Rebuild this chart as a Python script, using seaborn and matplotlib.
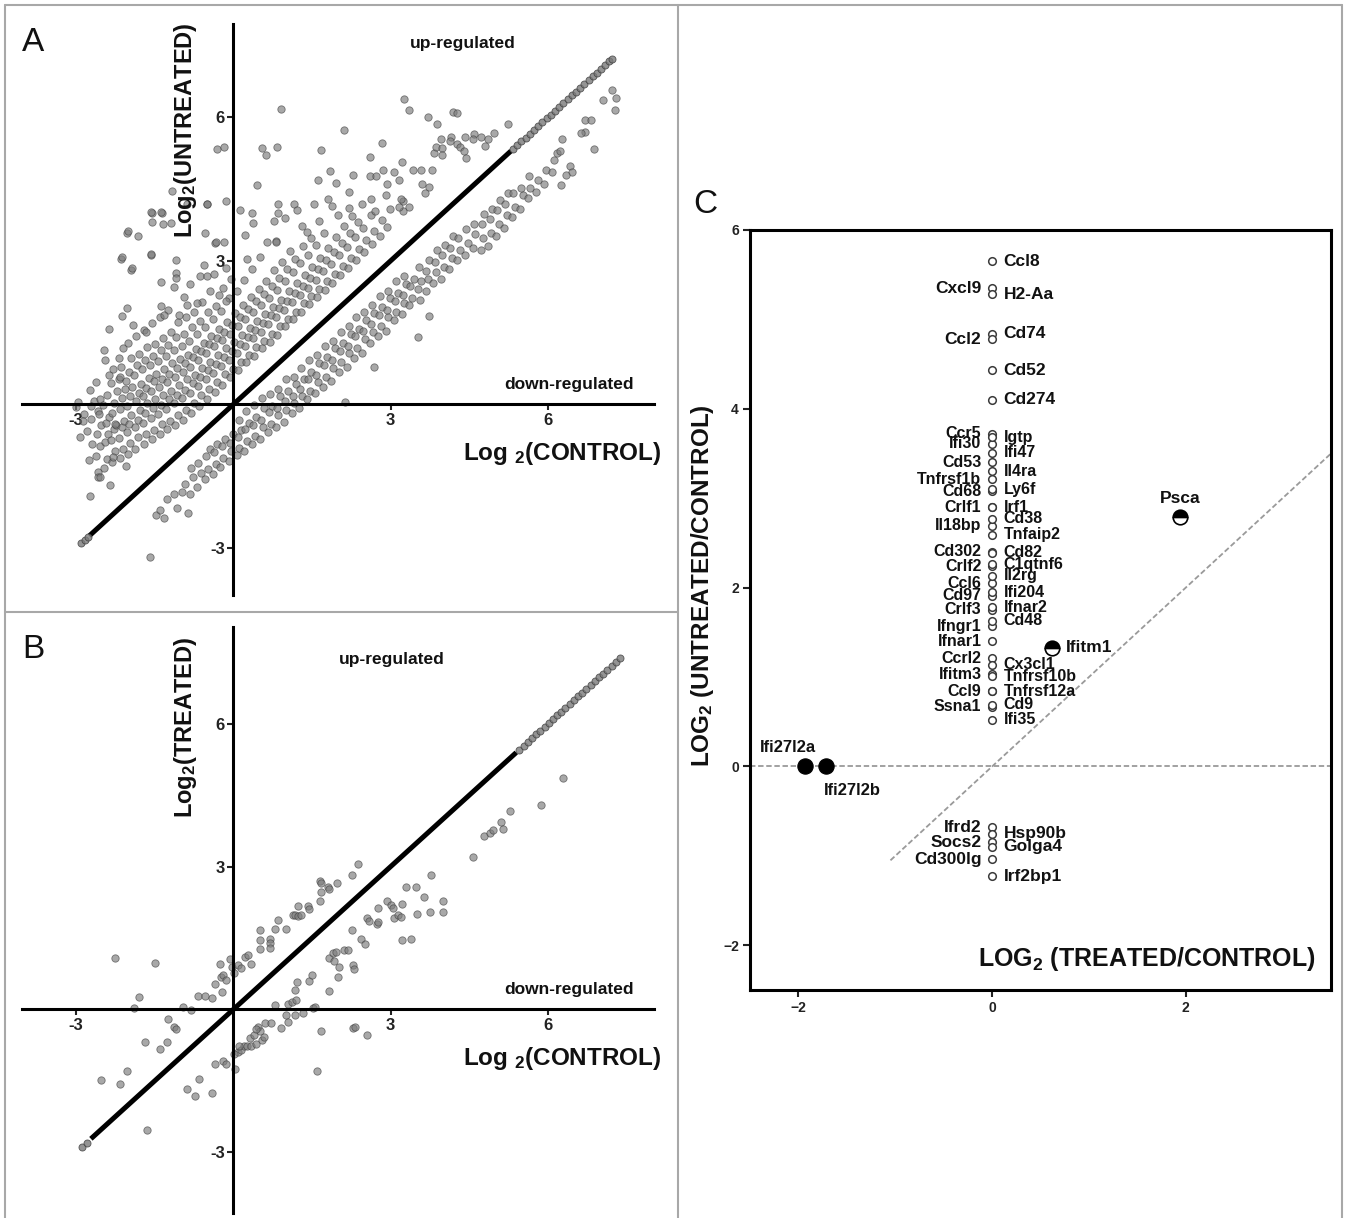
import matplotlib
matplotlib.use("Agg")
import matplotlib.pyplot as plt
from matplotlib.lines import Line2D
import seaborn as sns
import pandas as pd

# ---------------- DATA ----------------
# Panel A : genes above the diagonal (dense core + scattered halo)
a_upper_core = [
    (-2.93,-0.68),(-2.85,-0.21),(-2.97,0.05),
    (-2.76,-1.17),(-2.69,-0.83),(-2.79,-0.55),(-2.71,-0.31),(-2.66,0.07),(-2.74,0.31),
    (-2.58,-1.42),(-2.63,-1.08),(-2.55,-0.88),(-2.61,-0.61),(-2.52,-0.44),(-2.59,-0.13),(-2.54,0.12),(-2.62,0.47),
    (-2.47,-1.33),(-2.41,-1.14),(-2.46,-0.79),(-2.39,-0.63),(-2.44,-0.39),(-2.37,-0.27),(-2.48,-0.02),(-2.42,0.19),(-2.38,0.61),(-2.45,0.93),
    (-2.31,-1.21),(-2.26,-0.98),(-2.33,-0.74),(-2.28,-0.52),(-2.24,-0.43),(-2.32,-0.18),(-2.27,0.03),(-2.22,0.27),(-2.34,0.44),(-2.29,0.74),
    (-2.16,-1.12),(-2.11,-0.93),(-2.18,-0.71),(-2.13,-0.47),(-2.09,-0.34),(-2.17,-0.09),(-2.12,0.14),(-2.07,0.33),(-2.19,0.52),(-2.14,0.79),(-2.1,1.17),
    (-2.02,-1.04),(-1.97,-0.81),(-2.04,-0.58),(-1.99,-0.41),(-1.95,-0.22),(-2.03,-0.04),(-1.98,0.18),(-1.93,0.37),(-2.05,0.49),(-2.0,0.68),(-1.96,0.97),(-2.01,1.28),
    (-1.87,-0.93),(-1.82,-0.69),(-1.88,-0.47),(-1.83,-0.33),(-1.79,-0.11),(-1.86,0.06),(-1.81,0.24),(-1.77,0.43),(-1.89,0.61),(-1.84,0.82),(-1.8,1.05),(-1.85,1.43),
    (-1.71,-0.84),(-1.66,-0.61),(-1.73,-0.39),(-1.68,-0.19),(-1.64,0.02),(-1.72,0.17),(-1.67,0.34),(-1.62,0.55),(-1.74,0.74),(-1.69,0.92),(-1.65,1.19),(-1.7,1.55),
    (-1.56,-0.72),(-1.51,-0.53),(-1.58,-0.28),(-1.53,-0.07),(-1.49,0.11),(-1.57,0.27),(-1.52,0.48),(-1.47,0.63),(-1.59,0.83),(-1.54,1.02),(-1.5,1.27),(-1.55,1.71),
    (-1.41,-0.63),(-1.36,-0.42),(-1.43,-0.21),(-1.38,-0.02),(-1.34,0.19),(-1.42,0.36),(-1.37,0.52),(-1.32,0.74),(-1.44,0.91),(-1.39,1.13),(-1.35,1.38),(-1.4,1.83),
    (-1.26,-0.52),(-1.21,-0.34),(-1.28,-0.09),(-1.23,0.11),(-1.19,0.28),(-1.27,0.47),(-1.22,0.63),(-1.17,0.86),(-1.29,1.02),(-1.24,1.24),(-1.2,1.52),(-1.25,1.97),
    (-1.11,-0.44),(-1.06,-0.22),(-1.13,0.02),(-1.08,0.19),(-1.04,0.41),(-1.12,0.57),(-1.07,0.76),(-1.02,0.94),(-1.14,1.13),(-1.09,1.41),(-1.05,1.72),
    (-0.96,-0.33),(-0.91,-0.11),(-0.98,0.13),(-0.93,0.31),(-0.89,0.52),(-0.97,0.68),(-0.92,0.87),(-0.87,1.04),(-0.99,1.22),(-0.94,1.47),(-0.9,1.83),(-0.95,2.24),
    (-0.81,-0.19),(-0.76,0.03),(-0.83,0.24),(-0.78,0.44),(-0.74,0.61),(-0.82,0.79),(-0.77,0.98),(-0.72,1.16),(-0.84,1.33),(-0.79,1.61),(-0.75,1.94),
    (-0.66,-0.04),(-0.61,0.19),(-0.68,0.38),(-0.63,0.57),(-0.59,0.77),(-0.67,0.93),(-0.62,1.12),(-0.57,1.29),(-0.69,1.48),(-0.64,1.74),(-0.6,2.13),
    (-0.51,0.11),(-0.46,0.33),(-0.53,0.52),(-0.48,0.71),(-0.44,0.88),(-0.52,1.07),(-0.47,1.26),(-0.42,1.43),(-0.54,1.62),(-0.49,1.93),(-0.45,2.36),
    (-0.36,0.26),(-0.31,0.47),(-0.38,0.66),(-0.33,0.84),(-0.29,1.03),(-0.37,1.21),(-0.32,1.39),(-0.27,1.58),(-0.39,1.79),(-0.34,2.06),
    (-0.21,0.41),(-0.16,0.63),(-0.23,0.81),(-0.18,0.98),(-0.14,1.17),(-0.22,1.34),(-0.17,1.52),(-0.12,1.73),(-0.24,1.96),(-0.19,2.43),
    (-0.06,0.57),(-0.01,0.74),(-0.08,0.93),(-0.03,1.12),(0.01,1.31),(-0.07,1.48),(-0.02,1.66),(0.03,1.91),(-0.09,2.22),(-0.04,2.63),
    (0.09,0.71),(0.14,0.89),(0.07,1.07),(0.12,1.26),(0.16,1.44),(0.08,1.63),(0.13,1.82),(0.18,2.07),(0.06,2.38),
    (0.24,0.88),(0.29,1.04),(0.22,1.23),(0.27,1.41),(0.31,1.59),(0.23,1.78),(0.28,1.99),(0.33,2.24),(0.21,2.61),(0.26,3.03),
    (0.39,1.02),(0.44,1.19),(0.37,1.38),(0.42,1.56),(0.46,1.74),(0.38,1.94),(0.43,2.16),(0.48,2.42),(0.36,2.83),
    (0.54,1.17),(0.59,1.33),(0.52,1.52),(0.57,1.71),(0.61,1.89),(0.53,2.08),(0.58,2.31),(0.63,2.59),(0.51,3.08),
    (0.69,1.31),(0.74,1.48),(0.67,1.67),(0.72,1.86),(0.76,2.04),(0.68,2.23),(0.73,2.47),(0.78,2.81),
    (0.84,1.46),(0.89,1.64),(0.82,1.82),(0.87,2.01),(0.91,2.19),(0.83,2.39),(0.88,2.64),(0.93,2.98),(0.81,3.41),
    (0.99,1.63),(1.04,1.79),(0.97,1.98),(1.02,2.16),(1.06,2.36),(0.98,2.57),(1.03,2.83),(1.08,3.21),
    (1.14,1.78),(1.19,1.94),(1.12,2.13),(1.17,2.32),(1.21,2.53),(1.13,2.76),(1.18,3.04),
    (1.29,1.94),(1.34,2.11),(1.27,2.29),(1.32,2.48),(1.36,2.71),(1.28,2.96),(1.33,3.32),(1.31,3.74),
    (1.44,2.09),(1.49,2.26),(1.42,2.44),(1.47,2.64),(1.51,2.88),(1.43,3.12),(1.48,3.47),
    (1.59,2.24),(1.64,2.42),(1.57,2.61),(1.62,2.83),(1.66,3.07),(1.58,3.34),(1.63,3.83),
    (1.74,2.39),(1.79,2.57),(1.72,2.78),(1.77,3.01),(1.81,3.27),(1.73,3.58),
    (1.89,2.54),(1.94,2.73),(1.87,2.94),(1.92,3.18),(1.96,3.49),(1.88,4.14),
    (2.04,2.71),(2.09,2.89),(2.02,3.12),(2.07,3.37),(2.11,3.73),
    (2.19,2.86),(2.24,3.06),(2.17,3.29),(2.22,3.58),(2.26,3.93),
    (2.34,3.02),(2.39,3.24),(2.32,3.49),(2.37,3.81),
    (2.49,3.19),(2.54,3.43),(2.47,3.68),
    (2.64,3.36),(2.69,3.62),(2.62,3.97),
    (2.79,3.53),(2.84,3.86),
    (2.94,3.71),(2.99,4.08),
]
a_upper_halo = [
    (-2.04,3.59),(-1.82,3.52),(-2.15,3.05),(-1.95,2.82),(-1.57,3.13),(-1.56,4.0),(-1.37,4.0),
    (-1.35,3.77),(-1.10,3.01),(-1.18,4.47),(-1.57,4.03),(-1.39,4.03),(-1.55,3.82),(-1.19,3.79),
    (-0.88,4.18),(-0.51,4.18),(-0.15,4.26),(0.13,4.07),(0.46,4.58),(0.36,4.0),(0.86,4.18),
    (1.15,4.18),(1.21,4.07),(-2.01,3.62),(-2.12,3.08),(-1.58,3.15),(-1.93,2.85),(-1.10,2.75),
    (-1.10,2.64),(-1.39,2.56),(-1.14,2.45),(-0.83,2.52),(-0.64,2.68),(-0.50,2.68),(-0.57,2.92),
    (-0.36,3.38),(-0.18,3.40),(-0.15,2.85),(-0.37,2.73),(-0.28,2.29),(-0.15,2.17),(-2.03,2.01),
    (-2.12,1.84),(-1.91,1.66),(-2.37,1.58),(-2.47,1.14),(-2.18,0.96),(-2.17,0.58),(-1.66,1.52),
    (-1.39,2.05),(-1.33,1.87),(-1.04,1.87),(-0.88,2.08),(-0.69,2.12),
    (0.91,6.18),(-0.31,5.35),(-0.17,5.39),(0.55,5.37),(0.63,5.21),(0.83,5.39),(-0.5,4.18),
    (-0.55,3.59),(-0.34,3.40),(0.37,3.8),(0.85,4.0),(0.78,3.84),(0.99,3.90),(0.23,3.55),
    (0.65,3.39),(0.81,3.39),(1.53,4.19),(1.61,4.70),(1.68,5.31),(1.85,4.89),(1.95,4.63),
    (2.11,5.74),(2.21,4.44),(2.28,4.79),(2.60,5.17),(2.83,5.46),(2.60,4.77),(2.73,4.77),
    (2.86,4.91),(2.63,4.3),(2.91,4.38),(2.93,4.6),(3.06,4.85),(3.21,5.06),(3.16,4.69),
    (3.26,6.38),(3.35,6.15),(3.43,4.91),(3.58,4.91),(3.60,4.61),(3.72,6.0),(3.80,4.9),
    (3.88,5.87),(3.83,5.26),(3.86,5.39),(3.97,5.55),(4.16,5.59),(4.19,6.12),(4.27,5.45),
    (4.32,5.38),(4.43,5.6),(4.59,5.65),(3.24,4.26),(3.24,4.05),(2.0,3.97),(4.27,6.10),
    (5.25,5.86),(4.97,5.68),(4.73,5.6),(4.87,5.55),(4.80,5.4),(4.58,5.56),(4.14,5.50),
    (3.99,5.36),(3.99,5.21),(4.40,5.3),(4.45,5.15),(3.73,4.55),(3.66,4.42),(3.20,4.3),
    (3.35,4.12),(3.17,4.12),(2.45,4.2),(2.7,4.05),(1.8,4.3),(1.4,3.6),(2.2,4.1),
    (-2.57,-0.21),(-2.72,-0.04),(-2.26,-0.41),(-2.3,-1.1),(-2.05,-1.28),(-2.59,-1.53),
    (-2.73,-1.92),(-2.36,-1.68),(-2.55,-1.51),(-2.88,-0.35),(-3.0,-0.05),
]
# Panel A : genes below the diagonal
a_lower = [
    (-1.6,-3.2),(-1.47,-2.31),(-1.41,-2.22),(-1.33,-2.37),(-1.26,-1.98),(-1.14,-1.88),(-1.07,-2.17),
    (-0.98,-1.83),(-0.93,-1.67),(-0.86,-2.27),(-0.83,-1.87),(-0.77,-1.52),(-0.81,-1.33),
    (-0.69,-1.72),(-0.62,-1.43),(-0.67,-1.22),(-0.55,-1.57),(-0.49,-1.36),(-0.52,-1.08),(-0.45,-0.93),
    (-0.39,-1.46),(-0.34,-1.24),(-0.37,-0.99),(-0.31,-0.83),(-0.25,-1.31),(-0.19,-1.13),(-0.22,-0.88),(-0.16,-0.72),
    (-0.09,-1.19),(-0.04,-0.97),(-0.07,-0.81),(-0.01,-0.62),(0.06,-1.07),(0.11,-0.92),(0.08,-0.68),(0.14,-0.53),(0.1,-0.33),
    (0.21,-0.97),(0.26,-0.77),(0.23,-0.52),(0.29,-0.38),(0.25,-0.14),
    (0.36,-0.83),(0.41,-0.67),(0.38,-0.43),(0.44,-0.27),(0.4,-0.02),
    (0.51,-0.73),(0.56,-0.48),(0.53,-0.33),(0.59,-0.08),(0.55,0.13),
    (0.66,-0.57),(0.71,-0.42),(0.68,-0.17),(0.74,-0.03),(0.7,0.22),
    (0.81,-0.47),(0.86,-0.23),(0.83,-0.08),(0.89,0.17),(0.85,0.33),
    (0.96,-0.36),(1.01,-0.12),(0.98,0.08),(1.04,0.27),(1.0,0.52),
    (1.11,-0.18),(1.16,0.02),(1.13,0.18),(1.19,0.42),(1.15,0.58),
    (1.26,-0.07),(1.31,0.17),(1.28,0.33),(1.34,0.52),(1.3,0.77),
    (1.41,0.12),(1.46,0.28),(1.43,0.52),(1.49,0.67),(1.45,0.92),
    (1.56,0.23),(1.61,0.47),(1.58,0.62),(1.64,0.87),(1.6,1.03),
    (1.71,0.37),(1.76,0.58),(1.73,0.82),(1.79,0.98),(1.75,1.22),
    (1.86,0.48),(1.91,0.77),(1.88,0.93),(1.94,1.17),(1.9,1.33),
    (2.01,0.67),(2.06,0.88),(2.03,1.12),(2.09,1.28),(2.05,1.52),(2.13,0.04),
    (2.16,0.78),(2.21,1.07),(2.18,1.23),(2.24,1.47),(2.2,1.63),
    (2.31,0.97),(2.36,1.18),(2.33,1.42),(2.39,1.58),(2.35,1.82),
    (2.46,1.08),(2.51,1.37),(2.48,1.53),(2.54,1.77),(2.5,1.93),
    (2.68,0.78),(2.61,1.28),(2.66,1.52),(2.63,1.68),(2.69,1.92),(2.65,2.08),
    (2.76,1.42),(2.81,1.63),(2.78,1.87),(2.84,2.03),(2.8,2.27),
    (2.91,1.53),(2.96,1.82),(2.93,1.98),(2.99,2.22),(2.95,2.38),
    (3.06,1.77),(3.11,1.93),(3.08,2.17),(3.14,2.33),(3.1,2.57),
    (3.21,1.88),(3.26,2.12),(3.23,2.28),(3.29,2.52),(3.25,2.68),
    (3.36,2.07),(3.41,2.23),(3.38,2.47),(3.44,2.63),
    (3.53,1.4),(3.56,2.18),(3.52,2.42),(3.59,2.58),(3.55,2.87),
    (3.74,1.85),(3.67,2.38),(3.71,2.62),(3.68,2.78),(3.73,3.02),
    (3.82,2.53),(3.87,2.77),(3.84,2.98),(3.89,3.22),
    (3.97,2.62),(4.02,2.88),(3.99,3.12),(4.04,3.33),
    (4.12,2.83),(4.17,3.07),(4.14,3.28),(4.19,3.52),
    (4.27,3.02),(4.32,3.23),(4.29,3.47),(4.42,3.12),(4.47,3.38),(4.44,3.67),
    (4.57,3.28),(4.62,3.57),(4.59,3.78),(4.72,3.22),(4.77,3.48),(4.74,3.77),(4.79,3.98),
    (4.87,3.32),(4.92,3.58),(4.89,3.87),(4.94,4.08),(5.02,3.52),(5.07,3.78),(5.04,4.07),(5.09,4.28),
    (5.17,3.68),(5.22,3.97),(5.19,4.18),(5.24,4.42),(5.32,3.92),(5.37,4.13),(5.34,4.42),
    (5.47,4.08),(5.52,4.37),(5.49,4.53),(5.62,4.32),(5.67,4.53),(5.64,4.77),
    (5.78,4.45),(5.82,4.7),(5.93,4.6),(5.97,4.9),(6.08,4.85),(6.12,5.1),(6.17,5.25),
    (6.25,4.58),(6.23,5.3),(6.27,5.55),(6.43,4.99),(6.47,4.86),(6.35,4.8),
    (6.71,5.69),(6.71,5.94),(6.82,5.94),(6.89,5.33),(6.64,5.68),
    (7.05,6.37),(7.22,6.57),(7.28,6.16),(7.30,6.40),
]
# genes lying on the identity line (A)
a_diag_line = [-2.75, 5.30]
a_diag_dots = [-2.90, -2.84, -2.78, 5.34, 5.42, 5.50, 5.58, 5.66, 5.74, 5.82, 5.90, 5.98,
               6.06, 6.14, 6.22, 6.30, 6.38, 6.46, 6.54, 6.62, 6.70, 6.78, 6.86, 6.94,
               7.02, 7.10, 7.18, 7.22]

# Panel B
b_points = [
    (-2.26,1.08),(-1.49,0.98),(-1.80,0.26),(-1.90,0.02),(-0.96,0.04),(-0.81,-0.02),(-0.68,0.29),
    (-0.54,0.29),(-0.40,0.23),(-0.36,0.53),(-0.25,0.96),(-0.23,0.69),(-0.19,0.73),(-0.15,0.61),
    (-0.21,0.37),(-0.07,1.06),(-0.03,0.90),(0.02,0.77),(0.08,0.94),(0.14,0.86),(0.22,1.10),
    (0.28,1.14),(0.33,0.96),(0.51,1.67),(0.50,1.45),(0.50,1.26),(0.69,1.47),(0.70,1.39),
    (0.70,1.29),(0.80,1.70),(0.86,1.87),(1.01,1.70),(1.13,1.98),(1.17,1.98),(1.24,1.96),
    (1.30,1.98),(1.23,2.18),(1.42,2.18),(1.44,2.12),(1.65,2.69),(1.68,2.65),(1.67,2.46),
    (1.80,2.57),(1.82,2.53),(1.65,2.27),(1.98,2.65),(2.26,2.83),(2.37,3.06),
    (0.80,0.10),(1.05,0.12),(1.11,0.15),(1.20,0.19),(1.17,0.41),(1.21,0.57),(1.45,0.59),
    (1.50,0.72),(1.52,0.02),(1.83,0.39),(1.83,1.08),(1.90,1.18),(1.96,1.20),(1.92,1.02),
    (2.02,0.90),(2.0,0.69),(2.12,1.25),(2.19,1.25),(2.26,1.66),(2.29,0.94),(2.31,0.84),
    (2.43,1.47),(2.51,1.37),(2.56,1.92),(2.58,1.86),(2.75,1.79),(2.77,1.83),(2.76,2.14),
    (2.93,2.27),(3.0,2.2),(3.04,2.14),(3.07,1.92),(3.14,1.99),(3.20,1.95),(3.22,2.22),
    (3.29,2.57),(3.21,1.45),(3.40,1.48),(3.49,2.57),(3.50,2.0),(3.64,2.36),(3.75,2.04),
    (3.77,2.83),(4.0,2.28),(4.0,2.05),(4.58,3.20),(4.79,3.64),(4.90,3.70),(4.95,3.78),
    (5.10,3.93),(5.14,3.80),(5.28,4.18),(5.88,4.29),(6.30,4.87),
    (-1.24,-0.20),(-1.14,-0.37),(-1.10,-0.41),(-1.69,-0.68),(-1.26,-0.68),(-1.40,-0.84),
    (-2.03,-1.29),(-2.53,-1.49),(-2.17,-1.56),(-0.89,-1.67),(-0.66,-1.47),(-0.73,-1.81),
    (-0.40,-1.75),(-1.65,-2.53),(-0.36,-1.14),(-0.19,-1.08),(-0.15,-1.14),(0.03,-1.25),
    (0.08,-0.90),(0.14,-0.86),(0.20,-0.77),(0.26,-0.77),(0.33,-0.77),(0.43,-0.73),
    (0.31,-0.61),(0.39,-0.53),(0.47,-0.37),(0.51,-0.45),(0.55,-0.65),(0.59,-0.57),
    (0.61,-0.29),(0.72,-0.29),(0.91,-0.39),(1.01,-0.12),(1.05,-0.26),(1.17,-0.12),
    (1.32,-0.08),(1.55,0.04),(1.67,-0.45),(1.59,-1.30),(2.28,-0.40),(2.33,-0.36),
    (2.56,-0.53),(0.43,-0.41),(0.01,-0.94),(0.10,-0.77),
]
b_diag_line = [-2.72, 5.40]
b_diag_dots = [-2.89, -2.80, 5.46, 5.54, 5.62, 5.70, 5.78, 5.86, 5.94, 6.02, 6.10, 6.18,
               6.26, 6.34, 6.42, 6.50, 6.58, 6.66, 6.74, 6.82, 6.90, 6.98, 7.06, 7.14,
               7.22, 7.30, 7.38]

# Panel C : LOG2(UNTREATED/CONTROL) of genes with LOG2(TREATED/CONTROL) = 0
c_genes = ["Ccl8", "Cxcl9", "H2-Aa", "Cd74", "Ccl2", "Cd52", "Cd274",
           "Ccr5", "Ifi30", "Cd53", "Tnfrsf1b", "Cd68", "Crlf1", "Il18bp", "Cd302",
           "Crlf2", "Ccl6", "Cd97", "Crlf3", "Ifngr1", "Ifnar1", "Ccrl2", "Ifitm3",
           "Ccl9", "Ssna1",
           "Igtp", "Ifi47", "Il4ra", "Ly6f", "Irf1", "Cd38", "Tnfaip2", "Cd82",
           "C1qtnf6", "Il2rg", "Ifi204", "Ifnar2", "Cd48", "Cx3cl1", "Tnfrsf10b",
           "Tnfrsf12a", "Cd9", "Ifi35",
           "Ifrd2", "Hsp90b", "Socs2", "Golga4", "Cd300lg", "Irf2bp1"]
c_untreated = [5.65, 5.35, 5.28, 4.84, 4.78, 4.43, 4.10,
               3.72, 3.61, 3.40, 3.21, 3.08, 2.90, 2.69, 2.40,
               2.24, 2.05, 1.91, 1.75, 1.57, 1.40, 1.21, 1.03,
               0.84, 0.67,
               3.68, 3.51, 3.30, 3.10, 2.90, 2.77, 2.59, 2.39,
               2.26, 2.13, 1.95, 1.78, 1.63, 1.14, 1.01,
               0.84, 0.69, 0.52,
               -0.68, -0.75, -0.85, -0.90, -1.04, -1.23]
c_treated = [0.0] * len(c_untreated)
c_side = ["R", "L", "R", "R", "L", "R", "R"] + ["L"] * 18 + ["R"] * 18 + ["L", "R", "L", "R", "L", "R"]

# genes changed in both comparisons
c_half_genes = ["Psca", "Ifitm1"]
c_half_treated = [1.94, 0.62]
c_half_untreated = [2.79, 1.33]
c_full_genes = ["Ifi27l2a", "Ifi27l2b"]
c_full_treated = [-1.93, -1.72]
c_full_untreated = [0.0, 0.0]
c_identity = [-1.05, 3.5]

# ---------------- STYLE ----------------
sns.set_theme(style="white")
plt.rcParams["font.family"] = ["Liberation Sans", "DejaVu Sans"]
plt.rcParams["mathtext.fontset"] = "custom"
plt.rcParams["mathtext.rm"] = "Liberation Sans"
plt.rcParams["mathtext.bf"] = "Liberation Sans:bold"
plt.rcParams["mathtext.default"] = "bf"

fig = plt.figure(figsize=(13.51, 12.18), dpi=100)
fig.patch.set_facecolor("white")

pt_kw = dict(s=28, color="#7c7c7c", edgecolor="#404040", linewidth=0.6, alpha=0.66, legend=False)


def cross_axes(ax, ylim, ylabel, ylabel_y):
    ax.set_xlim(-4.04, 8.03)
    ax.set_ylim(*ylim)
    ax.set_facecolor("none")
    for s in ["top", "right"]:
        ax.spines[s].set_visible(False)
    for s in ["left", "bottom"]:
        ax.spines[s].set_position(("data", 0))
        ax.spines[s].set_linewidth(2.2)
        ax.spines[s].set_color("black")
    ax.set_xticks([-3, 3, 6])
    ax.set_yticks([-3, 3, 6])
    ax.set_xticklabels(["-3", "3", "6"])
    ax.set_yticklabels(["-3", "3", "6"])
    ax.tick_params(direction="out", length=4, width=1.5, pad=2, labelsize=12,
                   colors="#222222", left=True, bottom=True)
    for lab in ax.get_xticklabels() + ax.get_yticklabels():
        lab.set_fontweight("bold")
    ax.set_xlabel("")
    ax.set_ylabel("")
    ax.text(-0.91, ylabel_y, ylabel, rotation=90, ha="center", va="center",
            fontsize=17, fontweight="bold", color="#111111")
    ax.text(6.27, -1.03, r"Log $_2$(CONTROL)", ha="center", va="center",
            fontsize=17.5, fontweight="bold", color="#111111")
    ax.text(6.4, 0.41, "down-regulated", ha="center", va="center",
            fontsize=12.5, fontweight="bold", color="#111111")


# ---- Panel A ----
axA = fig.add_axes([0.0161, 0.5118, 0.4680, 0.4687])
dfA = pd.DataFrame(a_upper_core + a_upper_halo + a_lower, columns=["control", "untreated"])
sns.scatterplot(data=dfA, x="control", y="untreated", ax=axA, **pt_kw)
axA.plot(a_diag_line, a_diag_line, color="black", lw=3.6, solid_capstyle="butt", zorder=3)
sns.scatterplot(x=a_diag_dots, y=a_diag_dots, ax=axA, s=26, color="#7a7a7a",
                edgecolor="#3a3a3a", linewidth=0.6, alpha=0.8, legend=False, zorder=3)
cross_axes(axA, (-3.98, 7.96), r"Log$_2$(UNTREATED)", 5.73)
axA.text(4.38, 7.55, "up-regulated", ha="center", va="center",
         fontsize=12.5, fontweight="bold", color="#111111")

# ---- Panel B ----
axB = fig.add_axes([0.0161, 0.0041, 0.4680, 0.4808])
dfB = pd.DataFrame(b_points, columns=["control", "treated"])
sns.scatterplot(data=dfB, x="control", y="treated", ax=axB, **pt_kw)
axB.plot(b_diag_line, b_diag_line, color="black", lw=3.6, solid_capstyle="butt", zorder=3)
sns.scatterplot(x=b_diag_dots, y=b_diag_dots, ax=axB, s=26, color="#7a7a7a",
                edgecolor="#3a3a3a", linewidth=0.6, alpha=0.8, legend=False, zorder=3)
cross_axes(axB, (-4.28, 8.03), r"Log$_2$(TREATED)", 5.93)
axB.text(3.02, 7.36, "up-regulated", ha="center", va="center",
         fontsize=12.5, fontweight="bold", color="#111111")

# ---- Panel C ----
axC = fig.add_axes([0.5552, 0.1872, 0.4300, 0.6240])
axC.set_xlim(-2.5, 3.5)
axC.set_ylim(-2.5, 6.0)
axC.axhline(0, color="#9a9a9a", lw=1.3, ls=(0, (3, 1.5)), zorder=1)
axC.plot(c_identity, c_identity, color="#9a9a9a", lw=1.3, ls=(0, (3, 1.5)), zorder=1)

dfC = pd.DataFrame({"gene": c_genes, "treated": c_treated, "untreated": c_untreated, "side": c_side})
sns.scatterplot(data=dfC, x="treated", y="untreated", ax=axC, s=30, facecolor="white",
                edgecolor="#3a3a3a", linewidth=1.1, legend=False, zorder=3)
for g, xv, yv, sd in zip(c_genes, c_treated, c_untreated, c_side):
    fs = 11.5 if 0.0 < yv < 3.9 else 12.5
    if sd == "R":
        axC.text(xv + 0.12, yv, g, ha="left", va="center", fontsize=fs,
                 fontweight="bold", color="#111111")
    else:
        axC.text(xv - 0.11, yv, g, ha="right", va="center", fontsize=fs,
                 fontweight="bold", color="#111111")

sns.scatterplot(x=c_full_treated, y=c_full_untreated, ax=axC, s=120, color="black",
                edgecolor="black", legend=False, zorder=4)
axC.text(c_full_treated[0] + 0.11, c_full_untreated[0] + 0.21, c_full_genes[0],
         ha="right", va="center", fontsize=12, fontweight="bold", color="#111111")
axC.text(c_full_treated[1] - 0.02, c_full_untreated[1] - 0.27, c_full_genes[1],
         ha="left", va="center", fontsize=12, fontweight="bold", color="#111111")

axC.plot(c_half_treated, c_half_untreated, ls="none", marker="o", markersize=10.5,
         fillstyle="top", markerfacecolor="black", markerfacecoloralt="white",
         markeredgecolor="black", markeredgewidth=1.2, zorder=4)
axC.text(c_half_treated[0], c_half_untreated[0] + 0.21, c_half_genes[0], ha="center",
         va="center", fontsize=12.5, fontweight="bold", color="#111111")
axC.text(c_half_treated[1] + 0.14, c_half_untreated[1], c_half_genes[1], ha="left",
         va="center", fontsize=12.5, fontweight="bold", color="#111111")

for s in axC.spines.values():
    s.set_visible(True)
    s.set_linewidth(2.2)
    s.set_color("black")
axC.set_xticks([-2, 0, 2])
axC.set_yticks([-2, 0, 2, 4, 6])
axC.tick_params(direction="out", length=5, width=1.5, pad=3, labelsize=10,
                colors="#222222", left=True, bottom=True)
for lab in axC.get_xticklabels() + axC.get_yticklabels():
    lab.set_fontweight("bold")
axC.set_xlabel("")
axC.set_ylabel(r"LOG$_2$ (UNTREATED/CONTROL)", fontsize=17.5, fontweight="bold", color="#111111")
axC.yaxis.set_label_coords(-0.058, 0.532)
axC.text(0.974, 0.022, r"LOG$_2$ (TREATED/CONTROL)", transform=axC.transAxes,
         ha="right", va="bottom", fontsize=18, fontweight="bold", color="#111111")

# ---- panel letters and frame ----
fig.text(0.0161, 0.9585, "A", fontsize=24, ha="left", va="baseline", color="#111111")
fig.text(0.0161, 0.4594, "B", fontsize=24, ha="left", va="baseline", color="#111111")
fig.text(0.5130, 0.8251, "C", fontsize=24, ha="left", va="baseline", color="#111111")

frame_kw = dict(transform=fig.transFigure, color="#a8a8a8", lw=1.5)
fig.add_artist(Line2D([0.0037, 0.0037], [0.0, 0.9959], **frame_kw))
fig.add_artist(Line2D([0.0037, 0.9933], [0.9959, 0.9959], **frame_kw))
fig.add_artist(Line2D([0.9933, 0.9933], [0.0, 0.9959], **frame_kw))
fig.add_artist(Line2D([0.5019, 0.5019], [0.0, 0.9959], **frame_kw))
fig.add_artist(Line2D([0.0037, 0.5019], [0.4975, 0.4975], **frame_kw))

fig.savefig("out.png", dpi=100, facecolor="white")
